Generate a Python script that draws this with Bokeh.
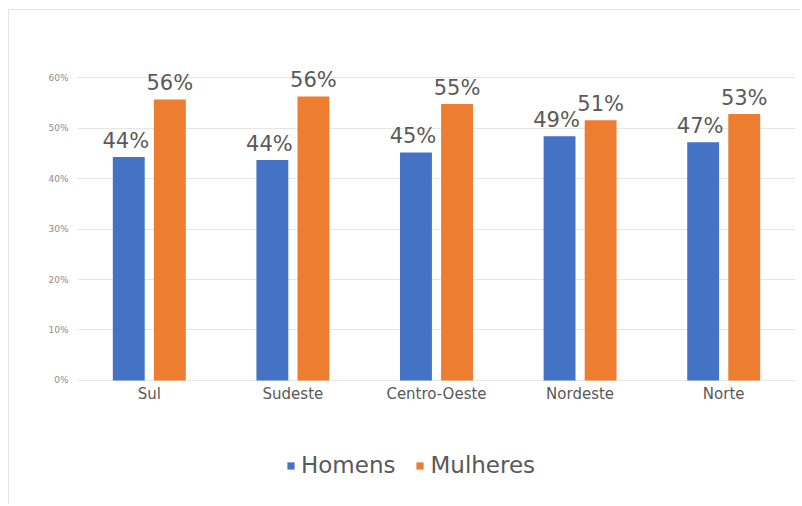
from bokeh.plotting import figure
from bokeh.models import ColumnDataSource, FactorRange, Range1d, LabelSet, Legend, LegendItem, FixedTicker
from bokeh.core.properties import value
from bokeh.transform import dodge
from bokeh.embed import file_html
from bokeh.resources import INLINE

regioes = ["Sul", "Sudeste", "Centro-Oeste", "Nordeste", "Norte"]
homens = [44.3, 43.7, 45.2, 48.4, 47.2]
mulheres = [55.7, 56.3, 54.8, 51.6, 52.8]
homens_lbl = ["44%", "44%", "45%", "49%", "47%"]
mulheres_lbl = ["56%", "56%", "55%", "51%", "53%"]
y_ticks = [0, 10, 20, 30, 40, 50, 60]
y_tick_lbl = {t: f"{t}%" for t in y_ticks}

BLUE = "#4472C4"
ORANGE = "#ED7D31"
TXT = "#595959"
FONT = "DejaVu Sans"

src = ColumnDataSource(dict(reg=regioes, h=homens, m=mulheres, hl=homens_lbl, ml=mulheres_lbl))

p = figure(x_range=FactorRange(*regioes), y_range=Range1d(-24, 66),
           width=792, height=495, output_backend="svg", toolbar_location=None,
           min_border_left=68, min_border_right=6, min_border_top=37, min_border_bottom=4,
           styles={"margin-left": "8px", "margin-top": "9px",
                   "border-left": "1px solid #e6e6e6", "border-top": "1px solid #e6e6e6"})
p.outline_line_color = None
p.background_fill_color = "white"
p.border_fill_color = "white"

rb = p.vbar(x=dodge("reg", -0.143, range=p.x_range), top="h", width=0.222, source=src,
            fill_color=BLUE, line_color=None)
ro = p.vbar(x=dodge("reg", 0.143, range=p.x_range), top="m", width=0.222, source=src,
            fill_color=ORANGE, line_color=None)

lb = LabelSet(x=dodge("reg", -0.143, range=p.x_range), y="h", text="hl", source=src,
              text_align="center", text_baseline="alphabetic", y_offset=9, x_offset=-3,
              text_font=value(FONT), text_font_size="21px", text_color=TXT)
lo = LabelSet(x=dodge("reg", 0.143, range=p.x_range), y="m", text="ml", source=src,
              text_align="center", text_baseline="alphabetic", y_offset=9,
              text_font=value(FONT), text_font_size="21px", text_color=TXT)
p.add_layout(lb)
p.add_layout(lo)

p.xgrid.grid_line_color = None
p.ygrid.grid_line_color = "#e6e6e6"
p.ygrid.ticker = FixedTicker(ticks=y_ticks)

p.yaxis.ticker = FixedTicker(ticks=y_ticks)
p.yaxis.major_label_overrides = y_tick_lbl
p.yaxis.axis_line_color = None
p.yaxis.major_tick_line_color = None
p.yaxis.minor_tick_line_color = None
p.yaxis.major_tick_out = 0
p.yaxis.major_label_text_font = FONT
p.yaxis.major_label_text_font_size = "9px"
p.yaxis.major_label_text_color = "#8c8c8c"
p.yaxis.major_label_standoff = 9

p.xaxis.fixed_location = 0
p.xaxis.axis_line_color = None
p.xaxis.major_tick_line_color = None
p.xaxis.major_tick_out = 0
p.xaxis.major_label_text_font = FONT
p.xaxis.major_label_text_font_size = "15px"
p.xaxis.major_label_text_color = TXT
p.xaxis.major_label_standoff = 5

legend = Legend(items=[LegendItem(label="Homens", renderers=[rb]),
                       LegendItem(label="Mulheres", renderers=[ro])],
                location=(209, 23), orientation="horizontal",
                label_text_font=FONT, label_text_font_size="23px", label_text_color=TXT,
                glyph_width=9, glyph_height=9, label_standoff=6, spacing=20,
                padding=0, margin=0, border_line_color=None, background_fill_alpha=0)
p.add_layout(legend, "center")

open("out.html", "w").write(file_html(p, INLINE))
